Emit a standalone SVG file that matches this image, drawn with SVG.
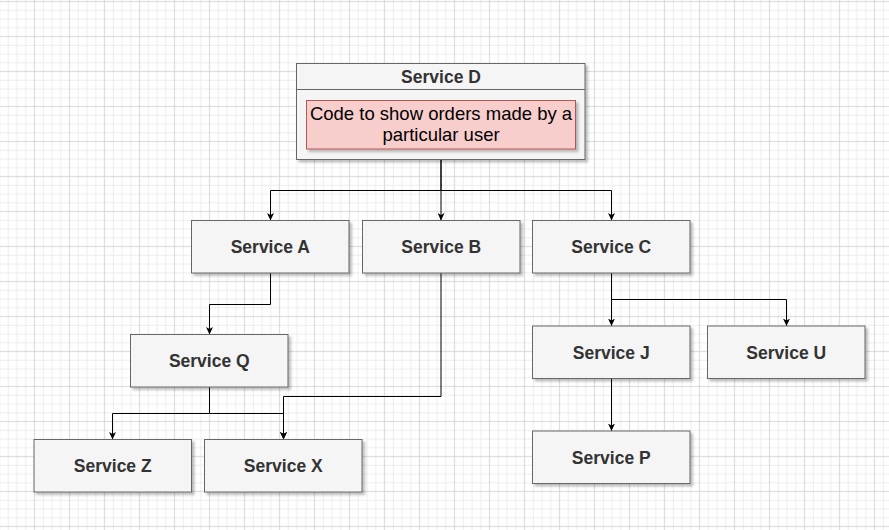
<svg xmlns="http://www.w3.org/2000/svg" width="889" height="530" viewBox="0 0 889 530">
  <defs>
    <pattern id="grid" patternUnits="userSpaceOnUse" x="3.875" y="5.875" width="35" height="35">
      <path d="M4.375 0V35M13.125 0V35M21.875 0V35M0 4.375H35M0 13.125H35M0 21.875H35" stroke="#ededed" stroke-width="1" fill="none"/>
      <path d="M30.625 0V35M0 30.625H35" stroke="#d6d6d6" stroke-width="1" fill="none"/>
    </pattern>
    <filter id="shadow" x="-10%" y="-10%" width="125%" height="130%">
      <feDropShadow dx="2.5" dy="2.5" stdDeviation="0.8" flood-color="#000" flood-opacity="0.25"/>
    </filter>
    <marker id="arrow" markerUnits="userSpaceOnUse" viewBox="0 0 8 7" markerWidth="8" markerHeight="7" refX="7.5" refY="3.5" orient="auto">
      <path d="M0,0 L7.5,3.5 L0,7 L2,3.5 Z" fill="#000"/>
    </marker>
    <style>
      .box { fill: #f5f5f5; stroke: #666666; stroke-width: 1; filter: url(#shadow); }
      .label { font-family: "Liberation Sans", Arial, sans-serif; font-size: 17.5px; font-weight: bold; fill: #333333; text-anchor: middle; }
      .note { fill: #f8cecc; stroke: #b85450; stroke-width: 1; filter: url(#shadow); }
      .notetext { font-family: "Liberation Sans", Arial, sans-serif; font-size: 18.5px; fill: #000000; text-anchor: middle; }
      .edge { fill: none; stroke: #000000; stroke-width: 1; marker-end: url(#arrow); }
    </style>
  </defs>

  <rect x="0" y="0" width="889" height="530" fill="#ffffff"/>
  <rect x="0" y="0" width="889" height="530" fill="url(#grid)"/>

  <g id="connectors">
    <path class="edge" d="M441 159.5V190.5H270.5V220.5"/>
    <path class="edge" d="M441 159.5V220.5"/>
    <path class="edge" d="M441 190.5H611.5V220.5"/>
    <path class="edge" d="M270.5 273V304.5H209.5V334.5"/>
    <path class="edge" d="M209.5 387V413.5H112.5V439.5"/>
    <path class="edge" d="M209.5 413.5H283.5V439.5"/>
    <path class="edge" d="M441 273V396.5H283.5V439.5"/>
    <path class="edge" d="M611.5 273V326"/>
    <path class="edge" d="M611.5 299.5H786.5V326"/>
    <path class="edge" d="M611.5 378.5V431"/>
  </g>

  <g id="service-d">
    <rect class="box" x="296.5" y="63.5" width="288.5" height="96"/>
    <line x1="296.5" y1="89.5" x2="585" y2="89.5" stroke="#666666" stroke-width="1"/>
    <text class="label" x="441" y="82.5">Service D</text>
    <g id="service-d-note">
      <rect class="note" x="306.5" y="100.5" width="269" height="48.5"/>
      <text class="notetext" x="441" y="119.5">Code to show orders made by a</text>
      <text class="notetext" x="441" y="140.5">particular user</text>
    </g>
  </g>

  <g id="service-a">
    <rect class="box" x="191.5" y="220.5" width="157.5" height="52.5"/>
    <text class="label" x="270.25" y="253">Service A</text>
  </g>
  <g id="service-b">
    <rect class="box" x="362.5" y="220.5" width="157.5" height="52.5"/>
    <text class="label" x="441.25" y="253">Service B</text>
  </g>
  <g id="service-c">
    <rect class="box" x="532.5" y="220.5" width="157.5" height="52.5"/>
    <text class="label" x="611.25" y="253">Service C</text>
  </g>
  <g id="service-q">
    <rect class="box" x="130.5" y="334.5" width="157.5" height="52.5"/>
    <text class="label" x="209.25" y="367">Service Q</text>
  </g>
  <g id="service-z">
    <rect class="box" x="34" y="439.5" width="157.5" height="52.5"/>
    <text class="label" x="112.75" y="472">Service Z</text>
  </g>
  <g id="service-x">
    <rect class="box" x="204.5" y="439.5" width="157.5" height="52.5"/>
    <text class="label" x="283.25" y="472">Service X</text>
  </g>
  <g id="service-j">
    <rect class="box" x="532.5" y="326" width="157.5" height="52.5"/>
    <text class="label" x="611.25" y="358.5">Service J</text>
  </g>
  <g id="service-u">
    <rect class="box" x="707.5" y="326" width="157.5" height="52.5"/>
    <text class="label" x="786.25" y="358.5">Service U</text>
  </g>
  <g id="service-p">
    <rect class="box" x="532.5" y="431" width="157.5" height="52.5"/>
    <text class="label" x="611.25" y="463.5">Service P</text>
  </g>
</svg>
